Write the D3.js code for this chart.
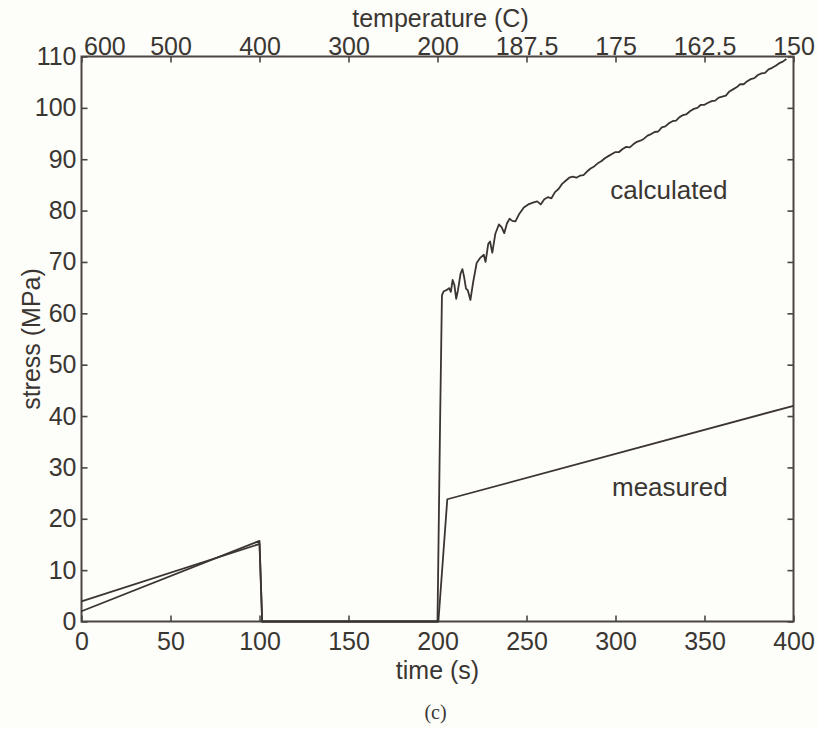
<!DOCTYPE html>
<html lang="en">
<head>
  <meta charset="UTF-8">
  <title>Stress vs time</title>
  <script src="https://d3js.org/d3.v7.min.js"></script>
  <style>
    body { margin: 0; background: #fdfdfa; }
    text { font-family: "Liberation Sans", Arial, sans-serif; fill: #3a3632; }
    .axis path { display: none; }
    .axis line { stroke: #4a4540; stroke-width: 1.6; }
    .axis text { font-size: 25px; fill: #3a3632; }
    .curve { fill: none; stroke: #3a3530; stroke-width: 1.8; stroke-linejoin: round; }
  </style>
</head>
<body>
  <svg width="818" height="729"></svg>

  <script>
    // time (s) and stress (MPa)
    const calcTime = [0, 100, 101.5, 200, 201.5, 202.5, 203.5, 205, 206.5, 207.5, 208.5, 209.5, 210.5, 211.5, 213, 214, 215, 216, 217, 218.5,
      220, 222, 224, 226, 227, 228.5, 229.5, 230.8, 232.5, 234.5, 236, 237.5, 239, 240.5, 242, 243.8, 246, 248.5, 251, 254,
      256, 258, 260, 262, 264, 266, 268, 270, 272, 274, 276, 278, 280, 282, 284, 286, 288, 290, 292, 294,
      296, 298, 300, 302, 304, 306, 308, 310, 312, 314, 316, 318, 320, 322, 324, 326, 328, 330, 332, 334,
      336, 338, 340, 342, 344, 346, 348, 350, 352, 354, 356, 358, 360, 362, 364, 366, 368, 370, 372, 374,
      376, 378, 380, 382, 384, 386, 388, 390, 392, 394, 396];
    const calcStress = [2.0, 15.7, 0, 0, 40, 63.5, 64.3, 64.5, 64.9, 64.2, 66.5, 65.5, 62.8, 64.5, 67.8, 68.6, 67, 64.8, 64.5, 62.6,
      66, 69.8, 70.8, 71.4, 70, 73.5, 74, 71.8, 75.5, 77.3, 76.8, 75.6, 77.5, 78.4, 78, 77.9, 79.4, 80.6, 81.2, 81.6,
      81.8, 81.2, 82.2, 82.6, 82.4, 83.6, 84.2, 85.2, 85.8, 86.4, 86.6, 86.4, 86.8, 86.9, 87.6, 88.2, 88.6, 89.2, 89.6, 90.2,
      90.6, 91.0, 91.4, 91.4, 92.0, 92.4, 92.3, 92.9, 93.4, 93.6, 94.0, 94.6, 94.9, 95.3, 95.4, 96.2, 96.4, 97.0, 97.4, 97.5,
      98.2, 98.6, 98.8, 99.4, 99.8, 100.0, 100.6, 100.6, 101.0, 101.3, 101.4, 102.0, 102.2, 102.4, 103.2, 103.6, 104.0, 104.6, 104.6, 105.2,
      105.6, 105.8, 106.4, 106.7, 106.8, 107.5, 107.8, 108.2, 108.7, 109.0, 109.5];

    const measTime = [0, 100, 101.5, 200, 200.5, 205.5, 400];
    const measStress = [3.9, 15.1, 0, 0, 0, 23.8, 42.0];

    const timeTicks = [0, 50, 100, 150, 200, 250, 300, 350, 400];
    const tempLabels = ["600", "500", "400", "300", "200", "187.5", "175", "162.5", "150"];
    const stressTicks = [0, 10, 20, 30, 40, 50, 60, 70, 80, 90, 100, 110];

    const svg = d3.select("svg");
    const x0 = 81.5, x1 = 793.5, y0 = 56.5, y1 = 621.5;

    const x = d3.scaleLinear().domain([0, 400]).range([x0, x1]);
    const y = d3.scaleLinear().domain([0, 110]).range([y1, y0]);

    // axes, ticks pointing inward
    svg.append("g").attr("class", "axis")
      .attr("transform", `translate(0,${y1})`)
      .call(d3.axisBottom(x).tickValues(timeTicks).tickSize(-6).tickPadding(11).tickFormat(d3.format("d")));

    const topAxis = svg.append("g").attr("class", "axis")
      .attr("transform", `translate(0,${y0})`)
      .call(d3.axisTop(x).tickValues(timeTicks).tickSize(-6).tickPadding(2)
        .tickFormat((d, i) => tempLabels[i]));
    // first label sits right of the corner so it clears "110"
    topAxis.selectAll(".tick text").filter(d => d === 0)
      .attr("text-anchor", "start").attr("x", 2);

    svg.append("g").attr("class", "axis")
      .attr("transform", `translate(${x0},0)`)
      .call(d3.axisLeft(y).tickValues(stressTicks).tickSize(-6).tickPadding(5));

    svg.append("g").attr("class", "axis")
      .attr("transform", `translate(${x1},0)`)
      .call(d3.axisRight(y).tickValues(stressTicks).tickSize(-6).tickFormat(""));

    svg.append("rect")
      .attr("x", x0).attr("y", y0)
      .attr("width", x1 - x0).attr("height", y1 - y0)
      .attr("fill", "none").attr("stroke", "#4a4540").attr("stroke-width", 2);

    const line = d3.line().x(d => x(d[0])).y(d => y(d[1]));

    svg.append("path").attr("class", "curve")
      .attr("d", line(calcTime.map((t, i) => [t, calcStress[i]])));
    svg.append("path").attr("class", "curve")
      .attr("d", line(measTime.map((t, i) => [t, measStress[i]])));

    // labels
    svg.append("text").attr("x", x(330)).attr("y", y(82.2)).attr("text-anchor", "middle")
      .style("font-size", "26px").text("calculated");
    svg.append("text").attr("x", x(330.5)).attr("y", y(24.5)).attr("text-anchor", "middle")
      .style("font-size", "26px").text("measured");

    svg.append("text").attr("x", (x0 + x1) / 2 + 3).attr("y", 27).attr("text-anchor", "middle")
      .style("font-size", "25px").text("temperature (C)");
    svg.append("text").attr("x", (x0 + x1) / 2).attr("y", 679).attr("text-anchor", "middle")
      .style("font-size", "25px").text("time (s)");
    svg.append("text")
      .attr("transform", `translate(40,${(y0 + y1) / 2}) rotate(-90)`)
      .attr("text-anchor", "middle")
      .style("font-size", "25px").text("stress (MPa)");

    svg.append("text").attr("x", (x0 + x1) / 2 - 2).attr("y", 719).attr("text-anchor", "middle")
      .style("font-family", "'Liberation Serif', 'Times New Roman', serif")
      .style("font-size", "20px").text("(c)");
  </script>
</body>
</html>
